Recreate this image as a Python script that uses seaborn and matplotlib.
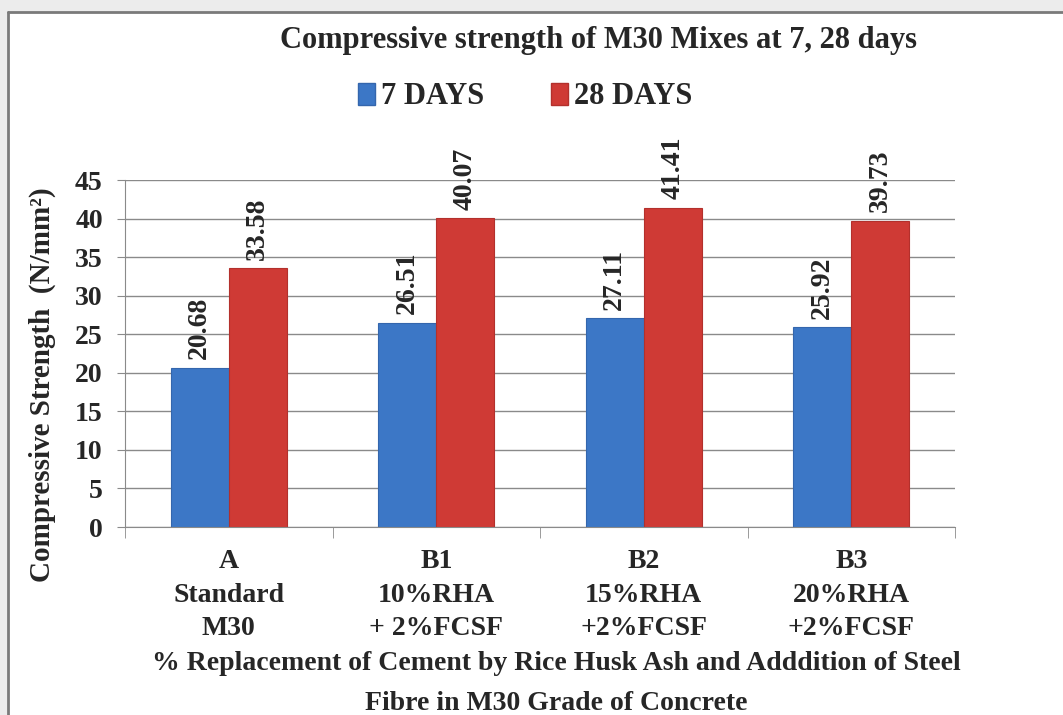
import numpy as np
import pandas as pd
import matplotlib.pyplot as plt
import matplotlib.patches as mpatches
from matplotlib.lines import Line2D
import seaborn as sns

# data
mixes = ["A\nStandard\nM30", "B1\n10%RHA\n+ 2%FCSF", "B2\n15%RHA\n+2%FCSF", "B3\n20%RHA\n+2%FCSF"]
days_7 = [20.68, 26.51, 27.11, 25.92]
days_28 = [33.58, 40.07, 41.41, 39.73]
ages = ["7 DAYS", "28 DAYS"]
yticks = list(range(0, 50, 5))

df = pd.DataFrame({
    "Mix": mixes * 2,
    "Age": [ages[0]] * 4 + [ages[1]] * 4,
    "Strength": days_7 + days_28,
})

sns.set_style("white")
plt.rcParams['font.family'] = ['Liberation Serif', 'DejaVu Serif']
plt.rcParams['font.weight'] = 'bold'

colors = {"7 DAYS": "#3c77c6", "28 DAYS": "#cf3a35"}
edges = ["#3466ad", "#b3302c"]

fig = plt.figure(figsize=(10.63, 7.15), dpi=100)
ax = fig.add_axes([0.1176, 0.2629, 0.7808, 0.4853])

sns.barplot(data=df, x="Mix", y="Strength", hue="Age", palette=colors,
            width=0.56, ax=ax, legend=False, saturation=1)

for cont, ec in zip(ax.containers, edges):
    for p in cont:
        p.set_edgecolor(ec)
        p.set_linewidth(0.8)
    ax.bar_label(cont, labels=[f"{v:.2f}" for v in cont.datavalues],
                 rotation=90, padding=6, fontsize=20, fontweight='bold')

ax.set_ylim(0, 45)
ax.set_xlim(-0.5, 3.5)
ax.set_yticks(yticks)
ax.yaxis.grid(True, color="#8a8a8a", linewidth=1)
ax.set_axisbelow(True)
for s in ["top", "right"]:
    ax.spines[s].set_visible(False)
for s in ["left", "bottom"]:
    ax.spines[s].set_color("#8a8a8a")
ax.tick_params(axis='y', length=6, color="#8a8a8a", labelsize=20, pad=10, left=True)
ax.tick_params(axis='x', which='major', length=0, labelsize=20, pad=16)
ax.set_xticks(np.arange(-0.5, 4, 1), minor=True)
ax.tick_params(axis='x', which='minor', length=8, color="#8a8a8a", bottom=True)
for t in ax.get_xticklabels():
    t.set_linespacing(1.45)
ax.set_xlabel("")
ax.set_ylabel("")

fig.text(0.5626, 0.944, "Compressive strength of M30 Mixes at 7, 28 days",
         ha='center', va='center', fontsize=22, fontweight='bold')
fig.text(0.04, 0.4615, "Compressive Strength  (N/mm²)", rotation=90,
         ha='center', va='center', fontsize=21, fontweight='bold')
fig.text(0.523, 1 - 663 / 715, "% Replacement of Cement by Rice Husk Ash and Adddition of Steel",
         ha='center', va='center', fontsize=20, fontweight='bold')
fig.text(0.523, 1 - 703 / 715, "Fibre in M30 Grade of Concrete",
         ha='center', va='center', fontsize=20, fontweight='bold')

handles = [mpatches.Patch(facecolor=colors[a], edgecolor=e) for a, e in zip(ages, edges)]
fig.legend(handles, ages, loc='center', bbox_to_anchor=(0.494, 1 - 97 / 715), ncol=2,
           frameon=False, handlelength=0.55, handleheight=0.7,
           handletextpad=0.2, columnspacing=2.2, prop={'weight': 'bold', 'size': 22})

# page frame
fig.patches.append(mpatches.Rectangle((0, 1 - 12 / 715), 1, 12 / 715, transform=fig.transFigure,
                                      facecolor="#ececec", edgecolor='none', zorder=0))
fig.patches.append(mpatches.Rectangle((0, 0), 8 / 1063, 1, transform=fig.transFigure,
                                      facecolor="#ececec", edgecolor='none', zorder=0))
fig.add_artist(Line2D([8 / 1063, 1], [1 - 12 / 715] * 2, color="#7a7a7a", lw=2))
fig.add_artist(Line2D([8 / 1063] * 2, [0, 1 - 12 / 715], color="#7a7a7a", lw=2))

fig.savefig("out.png", dpi=100)
